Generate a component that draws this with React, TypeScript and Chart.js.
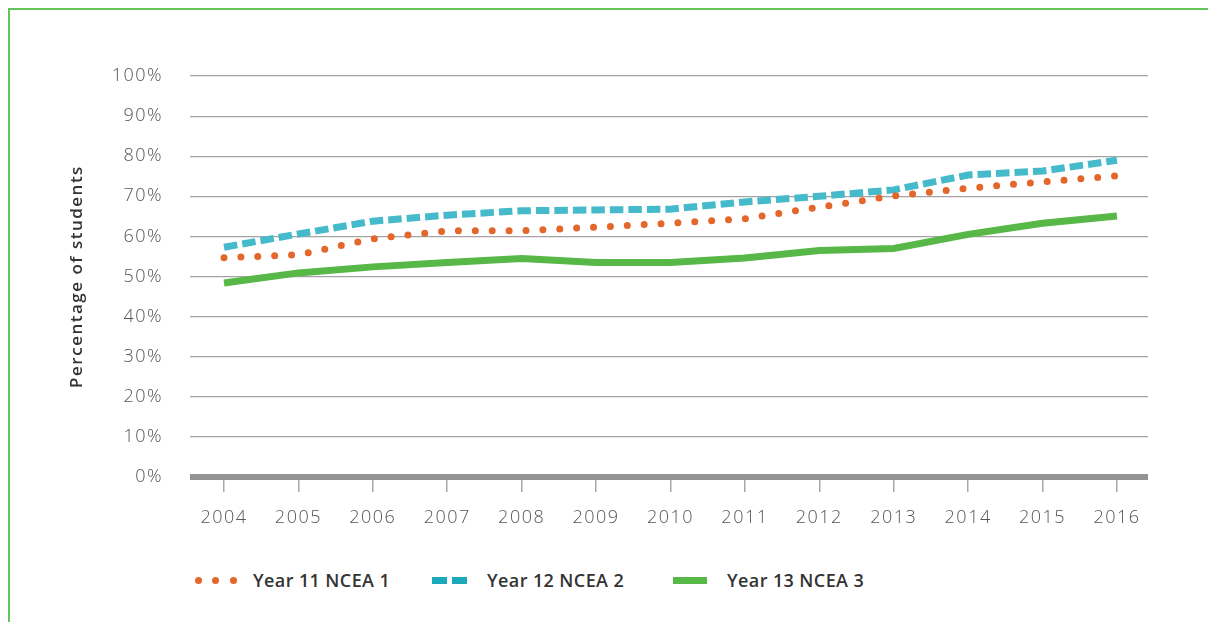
import React, { useEffect, useRef } from "react";
import { Chart, registerables } from "chart.js";

Chart.register(...registerables);

// Share of students attaining NCEA at the level for their year, 2004–2016
const years = [2004, 2005, 2006, 2007, 2008, 2009, 2010, 2011, 2012, 2013, 2014, 2015, 2016];
const year11Ncea1 = [54.7, 55.4, 59.4, 61.4, 61.4, 62.3, 63.3, 64.4, 67.3, 70.1, 72.0, 73.6, 75.1];
const year12Ncea2 = [57.3, 60.6, 63.8, 65.3, 66.4, 66.6, 66.8, 68.6, 70.0, 71.6, 75.3, 76.3, 79.0];
const year13Ncea3 = [48.4, 50.9, 52.4, 53.5, 54.5, 53.5, 53.5, 54.6, 56.5, 57.0, 60.5, 63.3, 65.1];
const seriesLabels = ["Year 11 NCEA 1", "Year 12 NCEA 2", "Year 13 NCEA 3"];
const yAxisTitle = "Percentage of students";

const ORANGE = "#e3662b";
const TEAL = "#45baca";
const TEAL_KEY = "#19a9ba";
const GREEN = "#57b848";
const FRAME = "#62c45a";
const FONT = "'Open Sans', 'DejaVu Sans', sans-serif";

const toPoints = (values: number[]) => years.map((x, i) => ({ x, y: values[i] }));

// Wider tracking for all canvas text (axis labels and axis title)
const textTracking = {
  id: "textTracking",
  beforeLayout(chart: any) {
    chart.ctx.letterSpacing = "1.5px";
  },
  beforeDraw(chart: any) {
    chart.ctx.letterSpacing = "1.5px";
  },
};

export default function App() {
  const canvasRef = useRef<HTMLCanvasElement>(null);

  useEffect(() => {
    if (!canvasRef.current) return;
    const chart = new Chart(canvasRef.current, {
      type: "line",
      plugins: [textTracking],
      data: {
        datasets: [
          {
            label: seriesLabels[0],
            data: toPoints(year11Ncea1),
            borderColor: ORANGE,
            borderWidth: 7,
            borderDash: [0, 16.9],
            borderCapStyle: "round",
            pointRadius: 0,
            tension: 0,
            fill: false,
          },
          {
            label: seriesLabels[1],
            data: toPoints(year12Ncea2),
            borderColor: TEAL,
            borderWidth: 7,
            borderDash: [13.5, 5],
            borderCapStyle: "butt",
            pointRadius: 0,
            tension: 0,
            fill: false,
          },
          {
            label: seriesLabels[2],
            data: toPoints(year13Ncea3),
            borderColor: GREEN,
            borderWidth: 7,
            borderCapStyle: "butt",
            pointRadius: 0,
            tension: 0,
            fill: false,
          },
        ],
      },
      options: {
        responsive: false,
        animation: false,
        layout: { padding: { top: 76, right: 60, bottom: 0, left: 0 } },
        plugins: {
          legend: { display: false },
          tooltip: { enabled: false },
        },
        scales: {
          x: {
            type: "linear",
            min: 2003.543,
            max: 2016.417,
            afterFit: (scale: any) => {
              scale.height = 73;
            },
            border: { display: false },
            grid: {
              drawOnChartArea: false,
              drawTicks: true,
              tickLength: 15,
              color: "#a8a8a8",
              lineWidth: 1.5,
            },
            ticks: {
              stepSize: 1,
              includeBounds: false,
              autoSkip: false,
              maxRotation: 0,
              padding: 15,
              color: "#555555",
              font: { family: FONT, size: 18, weight: 300 },
              callback: (v: any) => String(v),
            },
          },
          y: {
            min: 0,
            max: 100,
            afterFit: (scale: any) => {
              scale.width = 190;
            },
            border: { display: false },
            grid: {
              drawTicks: false,
              color: (ctx: any) => (ctx.tick && ctx.tick.value === 0 ? "#939393" : "#a4a4a4"),
              lineWidth: (ctx: any) => (ctx.tick && ctx.tick.value === 0 ? 6 : 1.2),
            },
            ticks: {
              stepSize: 10,
              padding: 27,
              color: "#555555",
              font: { family: FONT, size: 18, weight: 300 },
              callback: (v: any) => `${v}%`,
            },
            title: {
              display: true,
              text: yAxisTitle,
              color: "#333333",
              font: { family: FONT, size: 17, weight: 600 },
              padding: { top: 67, bottom: 0 },
            },
          },
        },
      },
    });
    return () => chart.destroy();
  }, []);

  const textStyle: React.CSSProperties = {
    position: "absolute",
    top: 569,
    lineHeight: "22px",
    fontFamily: FONT,
    fontWeight: 600,
    fontSize: 18,
    letterSpacing: "0.4px",
    color: "#333333",
    whiteSpace: "nowrap",
  };
  const dot = (left: number): React.CSSProperties => ({
    position: "absolute",
    left,
    top: 576.5,
    width: 7,
    height: 7,
    borderRadius: "50%",
    background: ORANGE,
  });
  const bar = (left: number, width: number, color: string): React.CSSProperties => ({
    position: "absolute",
    left,
    top: 577,
    width,
    height: 7,
    background: color,
  });

  return (
    <div style={{ position: "fixed", left: 0, top: 0, width: 1208, height: 622, overflow: "hidden", background: "#ffffff" }}>
      <div
        style={{
          position: "absolute",
          left: 8,
          top: 8,
          right: 0,
          bottom: 0,
          borderTop: `2px solid ${FRAME}`,
          borderLeft: `2px solid ${FRAME}`,
        }}
      />
      <canvas ref={canvasRef} width={1208} height={550} style={{ position: "absolute", left: 0, top: 0, display: "block" }} />
      <span style={dot(194.5)} />
      <span style={dot(212)} />
      <span style={dot(229.5)} />
      <span style={{ ...textStyle, left: 253 }}>{seriesLabels[0]}</span>
      <span style={bar(432, 15, TEAL_KEY)} />
      <span style={bar(452, 15, TEAL_KEY)} />
      <span style={{ ...textStyle, left: 487 }}>{seriesLabels[1]}</span>
      <span style={bar(673, 34, GREEN)} />
      <span style={{ ...textStyle, left: 727 }}>{seriesLabels[2]}</span>
    </div>
  );
}
